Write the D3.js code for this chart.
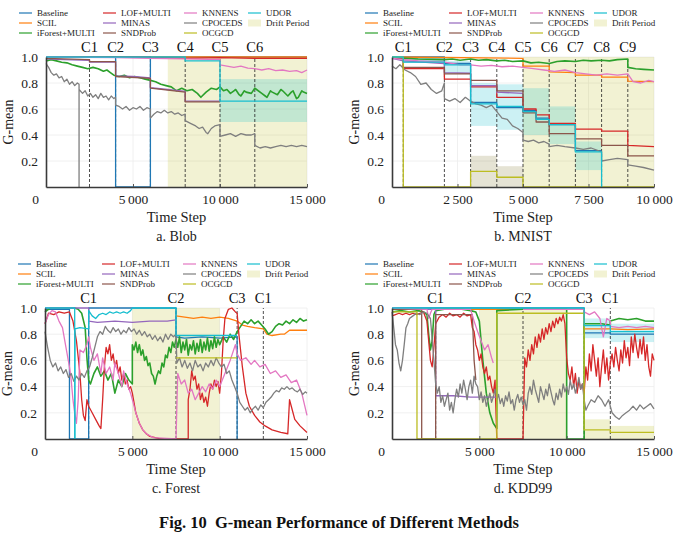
<!DOCTYPE html>
<html>
<head>
<meta charset="utf-8">
<script src="https://cdn.jsdelivr.net/npm/d3@7"></script>
<style>
body { margin: 0; background: #fff; }
svg text { font-family: "Liberation Serif", "Times New Roman", serif; }
</style>
</head>
<body>
<svg id="chart" width="680" height="535" font-family="Liberation Serif, serif"></svg>
<script>
// methods in legend order, tab10 colours
const methods = ["Baseline", "SCIL", "iForest+MULTI", "LOF+MULTI", "MINAS", "SNDProb", "KNNENS", "CPOCEDS", "OCGCD", "UDOR"];
const colors = ["#1f77b4", "#ff7f0e", "#2ca02c", "#d62728", "#9467bd", "#8c564b", "#e377c2", "#7f7f7f", "#bcbd22", "#17becf"];
const yTicks = [0.2, 0.4, 0.6, 0.8, 1.0];

// ---------- a. Blob ----------
const blobTicks = [0, 5000, 10000, 15000];
const blobChanges = [[2500, "C1"], [4000, "C2"], [6000, "C3"], [8000, "C4"], [10000, "C5"], [12000, "C6"]];
const blobDrift = [[7000, 15000]];
const blobUdorBands = [[10000, 15000, 0.5, 0.83]];
const blobBaseline = [[0,1],[4000,1],[4000,0],[6000,0],[6000,1],[15000,1]];
const blobSCIL = [[0,1],[15000,1]];
const blobIForest = [[0,0.97],[300,0.98],[600,0.97],[900,0.96],[1200,0.955],[1500,0.94],[1800,0.93],[2100,0.92],[2400,0.91],[2700,0.92],[3000,0.91],[3300,0.89],[3500,0.9],[3700,0.88],[3900,0.86],[4200,0.85],[4500,0.86],[4800,0.84],[5100,0.85],[5400,0.84],[5700,0.83],[6000,0.82],[6300,0.81],[6600,0.79],[6900,0.78],[7200,0.77],[7500,0.74],[7800,0.76],[8100,0.74],[8400,0.75],[8700,0.72],[8900,0.69],[9200,0.73],[9500,0.76],[9800,0.75],[10000,0.77],[10200,0.74],[10400,0.75],[10600,0.72],[10800,0.74],[10900,0.75],[11100,0.71],[11200,0.7],[11400,0.74],[11500,0.73],[11800,0.72],[12000,0.76],[12100,0.75],[12400,0.72],[12600,0.7],[12700,0.69],[12900,0.74],[13000,0.73],[13300,0.71],[13500,0.75],[13600,0.74],[13900,0.7],[14100,0.73],[14200,0.74],[14400,0.68],[14500,0.69],[14700,0.74],[14800,0.73],[15000,0.72]];
const blobLOF = [[0,1],[6000,1],[6000,0.995],[8000,0.99],[10000,0.995],[12000,0.99],[15000,0.99]];
const blobMINAS = [[0,0.985],[1000,0.98],[2500,0.975],[2500,0.96],[4000,0.96],[4000,0.855],[5000,0.85],[6000,0.84],[6000,0.765],[7000,0.75],[8000,0.735],[8000,0.66],[10000,0.66]];
const blobSNDProb = [[0,0.99],[2500,0.98],[2500,0.965],[4000,0.965],[4000,0.85],[6000,0.835],[6000,0.76],[8000,0.73],[8000,0.655],[10000,0.655]];
const blobKNNENS = [[0,1],[4000,0.995],[6000,0.99],[8000,0.985],[10000,0.98],[10000,0.94],[10400,0.93],[10800,0.92],[11200,0.93],[11600,0.915],[12000,0.91],[12400,0.9],[12800,0.91],[13200,0.895],[13600,0.9],[14000,0.89],[14400,0.895],[14700,0.88],[15000,0.9]];
const blobCPOCEDS = [[0,0.95],[150,0.92],[300,0.88],[450,0.86],[600,0.87],[750,0.84],[900,0.85],[1050,0.81],[1200,0.83],[1350,0.79],[1500,0.81],[1650,0.78],[1800,0.8],[1900,0.79],[1900,0],[1900,0.75],[2100,0.72],[2250,0.74],[2400,0.7],[2550,0.72],[2700,0.69],[2850,0.71],[3000,0.68],[3150,0.72],[3300,0.69],[3450,0.7],[3600,0.67],[3750,0.7],[3900,0.68],[4000,0.69],[4000,0.63],[4200,0.62],[4400,0.6],[4600,0.62],[4800,0.59],[5000,0.61],[5200,0.6],[5400,0.62],[5600,0.59],[5800,0.61],[6000,0.6],[6000,0.53],[6200,0.56],[6400,0.58],[6600,0.57],[6800,0.59],[7000,0.57],[7200,0.58],[7400,0.56],[7600,0.57],[7800,0.55],[8000,0.56],[8000,0.51],[8300,0.49],[8600,0.47],[8800,0.45],[9000,0.46],[9200,0.42],[9300,0.41],[9500,0.45],[9700,0.47],[10000,0.48],[10000,0.39],[10300,0.4],[10600,0.41],[10900,0.39],[11200,0.41],[11500,0.4],[11800,0.4],[12000,0.41],[12000,0.32],[12300,0.3],[12600,0.31],[12900,0.3],[13200,0.31],[13500,0.32],[13800,0.31],[14100,0.32],[14400,0.31],[14700,0.32],[15000,0.31]];
const blobOCGCD = [];
const blobUDOR = [[0,1],[8000,1],[8000,0.97],[10000,0.97],[10000,0.66],[15000,0.66]];

// ---------- b. MNIST ----------
const mnistTicks = [0, 2500, 5000, 7500, 10000];
const mnistChanges = [[430, "C1"], [2000, "C2"], [3000, "C3"], [4000, "C4"], [5000, "C5"], [6000, "C6"], [7000, "C7"], [8000, "C8"], [9000, "C9"]];
const mnistDrift = [[5000, 10000]];
const mnistBaselineBands = [[430, 2000, 0.955, 1.0]];
const mnistUdorBands = [[2000, 3000, 0.87, 0.97], [3000, 4000, 0.47, 0.8], [4000, 5000, 0.44, 0.79], [5000, 6000, 0.4, 0.76], [6000, 7000, 0.33, 0.62], [7000, 8000, 0.13, 0.35]];
const mnistOcgcdBands = [[3000, 4000, 0, 0.24], [4000, 5000, 0, 0.16]];
const mnistBaseline = [[0,1],[2000,1],[2000,0.95],[3000,0.95],[3000,0.65],[4000,0.65],[4000,0.61],[5000,0.61],[5000,0.59],[5500,0.59],[5500,0.53],[6000,0.53],[6000,0.48],[7000,0.48],[7000,0.28],[8000,0.28]];
const mnistSCIL = [[0,1],[5000,0.99],[5000,0.93],[6000,0.93],[6000,0.885],[7000,0.88],[7000,0.86],[8000,0.86],[8000,0.845],[9000,0.845],[9000,0.815],[10000,0.81]];
const mnistIForest = [[0,0.99],[500,0.99],[1000,0.985],[2000,0.98],[2300,0.985],[2600,0.975],[3000,0.985],[3300,0.975],[3600,0.98],[4000,0.97],[4300,0.975],[4600,0.965],[5000,0.97],[5300,0.955],[5600,0.96],[6000,0.95],[6300,0.965],[6600,0.97],[7000,0.965],[7300,0.975],[7600,0.97],[8000,0.975],[8300,0.97],[8600,0.98],[9000,0.985],[9000,0.92],[9300,0.91],[9600,0.905],[10000,0.9]];
const mnistLOF = [[0,0.99],[430,0.99],[430,0.91],[2000,0.91],[2000,0.83],[3000,0.83],[3000,0.77],[4000,0.77],[4000,0.69],[5000,0.69],[5000,0.6],[5500,0.6],[5500,0.555],[6000,0.555],[6000,0.49],[7000,0.49],[7000,0.445],[8000,0.445],[8000,0.43],[9000,0.43],[9000,0.32],[10000,0.31]];
const mnistMINAS = [[0,0.99],[430,0.97],[2000,0.95],[2000,0.88],[3000,0.875],[3000,0.78],[4000,0.78],[4000,0.73],[5000,0.72]];
const mnistSNDProb = [[0,0.99],[430,0.99],[430,0.92],[2000,0.92],[2000,0.87],[3000,0.87],[3000,0.82],[4000,0.82],[4000,0.74],[5000,0.74],[5000,0.57],[5500,0.57],[5500,0.5],[6000,0.5],[6000,0.41],[7000,0.41],[7000,0.37],[8000,0.37],[8000,0.32],[9000,0.32],[9000,0.24],[10000,0.24]];
const mnistKNNENS = [[0,0.99],[500,0.98],[1000,0.97],[1500,0.965],[2000,0.96],[2300,0.95],[2600,0.94],[3000,0.94],[3400,0.93],[3800,0.935],[4200,0.925],[4600,0.93],[5000,0.92],[5400,0.91],[5800,0.9],[6200,0.89],[6600,0.9],[7000,0.88],[7400,0.87],[7800,0.86],[8200,0.87],[8600,0.86],[9000,0.87],[9200,0.81],[9500,0.8],[9800,0.82],[10000,0.81]];
const mnistCPOCEDS = [[0,0.93],[150,0.91],[300,0.94],[500,0.9],[700,0.88],[900,0.85],[1100,0.79],[1300,0.8],[1500,0.75],[1700,0.72],[1900,0.74],[2000,0.8],[2000,0.68],[2200,0.66],[2400,0.68],[2600,0.65],[2800,0.69],[3000,0.66],[3200,0.64],[3400,0.63],[3600,0.61],[3800,0.63],[4000,0.58],[4200,0.53],[4400,0.52],[4600,0.47],[4800,0.45],[5000,0.42],[5000,0.36],[5200,0.35],[5400,0.36],[5600,0.34],[5800,0.35],[6000,0.33],[6000,0.31],[6300,0.32],[6600,0.31],[7000,0.3],[7300,0.29],[7600,0.3],[8000,0.27],[8000,0.2],[8300,0.21],[8600,0.22],[9000,0.21],[9000,0.17],[9300,0.16],[9600,0.15],[10000,0.13]];
const mnistOCGCD = [[0,1],[430,1],[430,0],[3000,0],[3000,0.12],[4000,0.12],[4000,0.075],[5000,0.075],[5000,0],[10000,0]];
const mnistUDOR = [[0,1],[430,1],[430,0.96],[2000,0.96],[2000,0.94],[3000,0.94],[3000,0.64],[4000,0.64],[4000,0.62],[5000,0.62],[5000,0.58],[5500,0.58],[5500,0.52],[6000,0.52],[6000,0.48],[7000,0.48],[7000,0.27],[8000,0.27],[8000,0]];

// ---------- c. Forest ----------
const forestTicks = [0, 5000, 10000, 15000];
const forestChanges = [[2500, "C1"], [7500, "C2"], [11000, "C3"], [12500, "C1"]];
const forestDrift = [[5000, 10000]];
const forestBaseline = [[0,0.99],[1400,0.99],[1400,0],[2500,0],[2500,1],[7500,1],[7500,0.78],[8000,0.77],[9000,0.78],[10000,0.77],[11000,0.78],[11000,0]];
const forestSCIL = [[7500,0.94],[8000,0.93],[8500,0.92],[9000,0.93],[9500,0.92],[10000,0.93],[10500,0.92],[11000,0.9],[11300,0.87],[11600,0.86],[12000,0.85],[12500,0.84],[12700,0.8],[13000,0.79],[13500,0.8],[13700,0.8],[14000,0.83],[14500,0.83],[15000,0.83]];
const forestIForest = [[0,0.97],[300,1],[800,1],[1300,1],[1700,1],[1900,0.99],[2100,0.96],[2300,0.85],[2400,0.62],[2500,0.45],[2600,0.42],[2800,0.5],[3000,0.55],[3200,0.48],[3400,0.52],[3600,0.45],[3800,0.5],[4000,0.35],[4200,0.45],[4400,0.4],[4600,0.5],[4800,0.45],[5000,0.42],[5000,0.72],[5100,0.68],[5200,0.74],[5300,0.66],[5400,0.72],[5500,0.64],[5600,0.68],[5700,0.6],[5800,0.63],[5900,0.56],[6000,0.58],[6100,0.5],[6200,0.48],[6300,0.42],[6400,0.48],[6500,0.52],[6600,0.5],[6700,0.58],[6800,0.55],[6900,0.64],[7000,0.62],[7100,0.7],[7200,0.66],[7300,0.74],[7400,0.7],[7500,0.76],[7600,0.7],[7700,0.78],[7800,0.66],[7900,0.74],[8000,0.68],[8100,0.76],[8200,0.64],[8300,0.72],[8400,0.68],[8500,0.75],[8600,0.65],[8700,0.73],[8800,0.67],[8900,0.76],[9000,0.66],[9100,0.74],[9200,0.68],[9300,0.77],[9400,0.67],[9500,0.75],[9600,0.69],[9700,0.78],[9800,0.7],[9900,0.76],[10000,0.72],[10200,0.78],[10400,0.74],[10600,0.8],[10800,0.76],[11000,0.82],[11200,0.86],[11400,0.9],[11600,0.88],[11800,0.91],[12000,0.88],[12200,0.9],[12400,0.87],[12600,0.84],[12800,0.8],[13000,0.82],[13200,0.86],[13400,0.88],[13600,0.87],[13800,0.9],[14000,0.88],[14200,0.91],[14400,0.89],[14600,0.92],[14800,0.9],[15000,0.91]];
const forestLOF = [[0,0.88],[200,0.96],[500,0.95],[800,0.97],[1100,0.96],[1400,0.97],[1600,0.9],[1800,0.75],[2000,0.5],[2100,0.3],[2200,0.18],[2300,0.14],[2400,0.3],[2500,0.25],[2700,0.2],[2900,0.15],[3100,0.1],[3200,0.08],[3300,0.3],[3400,0.55],[3500,0.7],[3600,0.65],[3700,0.72],[3800,0.6],[3900,0.65],[4000,0.55],[4100,0.6],[4200,0.5],[4300,0.55],[4400,0.45],[4500,0.5],[4600,0.42],[4700,0.45],[4800,0.38],[4900,0.4],[5000,0.35],[5200,0.2],[5400,0.12],[5600,0.07],[5800,0.04],[6000,0.02],[6500,0.005],[7000,0],[8200,0],[8200,0.3],[8300,0.38],[8400,0.52],[8500,0.45],[8600,0.48],[8700,0.38],[8800,0.42],[8900,0.3],[9000,0.35],[9100,0.28],[9200,0.32],[9300,0.25],[9400,0.35],[9500,0.42],[9600,0.38],[9700,0.45],[9800,0.4],[9900,0.44],[10000,0.35],[10100,0.5],[10200,0.75],[10300,0.92],[10500,0.99],[10700,1],[10900,0.97],[11000,0.96],[11100,0.8],[11300,0.55],[11500,0.35],[11700,0.25],[12000,0.18],[12300,0.13],[12600,0.1],[13000,0.07],[13500,0.05],[13900,0.04],[14000,0.3],[14100,0.25],[14300,0.15],[14600,0.1],[15000,0.05]];
const forestMINAS = [[0,1],[2500,1],[2500,0.9],[3000,0.89],[4000,0.9],[5000,0.89],[6000,0.9],[7000,0.9],[7500,0.91]];
const forestSNDProb = [];
const forestKNNENS = [[0,0.88],[200,0.95],[400,0.98],[600,0.97],[800,0.9],[1000,0.85],[1200,0.7],[1400,0.55],[1500,0.45],[1600,0.3],[1700,0.2],[1800,0.12],[1900,0.3],[2000,0.68],[2200,0.66],[2400,0.72],[2500,0.78],[2600,0.7],[2800,0.6],[3000,0.65],[3200,0.5],[3300,0.62],[3500,0.5],[3700,0.55],[3900,0.45],[4000,0.58],[4200,0.5],[4400,0.4],[4500,0.52],[4700,0.42],[4900,0.35],[5000,0.3],[5200,0.2],[5400,0.12],[5600,0.07],[5800,0.04],[6200,0.01],[7500,0],[7600,0.5],[7800,0.42],[8000,0.45],[8200,0.35],[8400,0.38],[8600,0.3],[8800,0.35],[9000,0.4],[9200,0.36],[9400,0.42],[9600,0.38],[9800,0.45],[10000,0.4],[10300,0.5],[10600,0.6],[10900,0.72],[11000,0.65],[11200,0.6],[11500,0.62],[11800,0.57],[12000,0.6],[12300,0.55],[12600,0.57],[12900,0.5],[13200,0.52],[13500,0.47],[13800,0.49],[14100,0.43],[14400,0.45],[14700,0.35],[15000,0.18]];
const forestCPOCEDS = [[0,0.82],[150,0.7],[300,0.6],[450,0.55],[600,0.58],[750,0.52],[900,0.55],[1050,0.5],[1200,0.53],[1350,0.47],[1500,0.5],[1650,0.44],[1800,0.48],[1950,0.45],[2100,0.5],[2250,0.47],[2400,0.52],[2550,0.55],[2700,0.62],[2850,0.7],[3000,0.78],[3150,0.82],[3300,0.8],[3450,0.86],[3600,0.83],[3750,0.81],[3900,0.85],[4050,0.82],[4200,0.84],[4350,0.8],[4500,0.83],[4650,0.81],[4800,0.85],[4950,0.82],[5100,0.84],[5250,0.8],[5400,0.83],[5550,0.79],[5700,0.82],[5850,0.78],[6000,0.8],[6150,0.76],[6300,0.79],[6450,0.75],[6600,0.78],[6750,0.74],[6900,0.8],[7050,0.76],[7200,0.8],[7350,0.78],[7500,0.8],[7550,0.58],[7700,0.62],[7850,0.55],[8000,0.6],[8150,0.54],[8300,0.58],[8450,0.52],[8600,0.6],[8750,0.55],[8900,0.57],[9050,0.52],[9200,0.58],[9350,0.55],[9500,0.6],[9650,0.56],[9800,0.62],[9950,0.58],[10100,0.55],[10250,0.57],[10400,0.5],[10550,0.52],[10700,0.45],[10850,0.4],[11000,0.35],[11150,0.28],[11300,0.25],[11450,0.22],[11600,0.24],[11750,0.2],[11900,0.23],[12050,0.25],[12200,0.22],[12350,0.26],[12500,0.24],[12650,0.28],[12800,0.3],[12950,0.32],[13100,0.35],[13250,0.37],[13400,0.36],[13550,0.39],[13700,0.38],[13850,0.4],[14000,0.38],[14150,0.39],[14300,0.37],[14450,0.36],[14600,0.38],[14750,0.34],[14900,0.36],[15000,0.35]];
const forestOCGCD = [[7500,0.62],[11000,0.62]];
const forestUDOR = [[0,1],[1700,1],[1700,0],[1720,0],[1720,0.84],[2000,0.85],[2500,0.84],[2500,0.98],[2700,0.94],[2900,0.92],[3100,0.95],[3300,0.96],[3500,0.95],[3700,0.97],[3900,0.96],[4100,0.97],[4300,0.96],[4500,0.97],[4700,0.96],[4900,0.98],[5000,1],[7500,1],[7500,0.79],[11000,0.79]];

// ---------- d. KDD99 ----------
const kddTicks = [0, 5000, 10000, 15000];
const kddChanges = [[2500, "C1"], [7500, "C2"], [11000, "C3"], [12500, "C1"]];
const kddDrift = [[5000, 10000]];
const kddUdorBands = [[11000, 12500, 0.77, 0.92], [12500, 15000, 0.74, 0.88]];
const kddOcgcdBands = [[11000, 12500, 0, 0.15], [12500, 15000, 0, 0.1]];
const kddBaseline = [[0,1],[11000,1],[11000,0.81],[12500,0.81],[12500,0.8],[15000,0.8]];
const kddSCIL = [[0,0.99],[11000,0.99],[11000,0.84],[12500,0.84],[12500,0.84],[13500,0.835],[15000,0.84]];
const kddIForest = [[0,0.97],[500,0.98],[1000,0.97],[1500,0.98],[1800,0.97],[2000,0.95],[2100,0.8],[2200,0.68],[2300,0.75],[2400,0.95],[2500,0.98],[3000,0.99],[4000,0.99],[4500,0.98],[4800,0.97],[5000,0.9],[5200,0.6],[5400,0.35],[5600,0.2],[5800,0.12],[6000,0.08],[6000,0.98],[7500,0.99],[10000,0.99],[10000,0],[11000,0],[11000,0.88],[12000,0.88],[12500,0.87],[12500,0.9],[13000,0.92],[13500,0.91],[14000,0.92],[14500,0.9],[15000,0.9]];
const kddLOF = [[0,0.94],[200,0.95],[400,0.96],[600,0.95],[800,0.96],[1000,0.95],[1200,0.96],[1400,0.95],[1600,0.96],[1800,0.97],[2000,0.9],[2100,0.75],[2200,0.6],[2300,0.55],[2400,0.7],[2500,0.88],[2700,0.93],[2900,0.95],[3100,0.93],[3300,0.96],[3500,0.94],[3700,0.95],[3900,0.93],[4100,0.96],[4300,0.94],[4500,0.95],[4600,0.85],[4700,0.82],[4800,0.72],[4900,0.68],[5000,0.6],[5100,0.65],[5200,0.55],[5300,0.5],[5400,0.55],[5500,0.45],[5600,0.48],[5700,0.4],[5800,0.35],[5900,0.45],[6000,0],[7500,0],[7600,0.62],[7700,0.55],[7800,0.68],[7900,0.6],[8000,0.72],[8100,0.65],[8200,0.78],[8300,0.7],[8400,0.8],[8500,0.74],[8600,0.84],[8700,0.76],[8800,0.85],[8900,0.8],[9000,0.88],[9100,0.82],[9200,0.9],[9300,0.85],[9400,0.92],[9500,0.88],[9600,0.93],[9700,0.9],[9800,0.95],[9900,0.88],[10000,0.62],[10100,0.5],[10200,0.45],[10300,0.55],[10400,0.4],[10500,0.5],[10600,0.35],[10700,0.45],[10800,0.38],[10900,0.42],[11000,0.35],[11100,0.55],[11200,0.45],[11300,0.65],[11400,0.52],[11500,0.72],[11600,0.6],[11700,0.48],[11800,0.62],[11900,0.4],[12000,0.55],[12100,0.68],[12200,0.5],[12300,0.62],[12400,0.45],[12500,0.58],[12600,0.65],[12700,0.55],[12800,0.7],[12900,0.6],[13000,0.52],[13100,0.68],[13200,0.58],[13300,0.75],[13400,0.62],[13500,0.7],[13600,0.56],[13700,0.78],[13800,0.66],[13900,0.8],[14000,0.7],[14100,0.62],[14200,0.76],[14300,0.65],[14400,0.78],[14500,0.6],[14600,0.72],[14700,0.55],[14800,0.48],[14900,0.65],[15000,0.6]];
const kddMINAS = [[0,0.99],[2500,0.99],[2500,0.33],[3500,0.33],[4500,0.32],[6000,0.32]];
const kddSNDProb = [[0,0.99],[1700,0.99],[1700,0],[2500,0],[2500,0.95],[4600,0.95],[4700,0.6],[4800,0.45]];
const kddKNNENS = [[0,1],[2000,0.99],[2100,0.92],[2200,0.96],[2300,0.99],[4500,0.99],[4700,0.9],[4900,0.82],[5100,0.75],[5300,0.68],[5500,0.72],[5700,0.62],[5800,0.58],[5800,null],[7500,null],[7500,0.99],[11000,0.99],[11000,0.97],[11300,0.95],[11600,0.97],[11900,0.92],[12100,0.78],[12300,0.92],[12500,0.9],[12500,0.86],[13000,0.85],[13500,0.86],[14000,0.85],[14500,0.86],[15000,0.85]];
const kddCPOCEDS = [[0,0.97],[100,0.85],[200,0.72],[300,0.68],[400,0.58],[500,0.52],[600,0.6],[700,0.72],[800,0.85],[900,0.88],[1000,0.92],[1200,0.94],[1400,0.96],[1600,0.95],[1800,0.97],[2000,0.96],[2200,0.92],[2400,0.6],[2500,0.42],[2600,0.35],[2700,0.4],[2800,0.28],[2900,0.33],[3000,0.25],[3100,0.3],[3200,0.35],[3300,0.22],[3400,0.28],[3500,0.2],[3600,0.3],[3700,0.38],[3800,0.32],[3900,0.42],[4000,0.35],[4100,0.45],[4200,0.38],[4300,0.3],[4400,0.4],[4500,0.45],[4600,0.35],[4700,0.48],[4800,0.42],[4900,0.4],[5000,0.3],[5100,0.36],[5200,0.28],[5300,0.33],[5400,0.25],[5500,0.3],[5600,0.35],[5700,0.28],[5800,0.32],[5900,0.38],[6000,0.3],[6100,0.34],[6200,0.27],[6300,0.31],[6400,0.25],[6500,0.33],[6600,0.29],[6700,0.36],[6800,0.27],[6900,0.3],[7000,0.22],[7100,0.3],[7200,0.34],[7300,0.28],[7400,0.32],[7500,0.26],[7600,0.3],[7700,0.22],[7800,0.35],[7900,0.4],[8000,0.34],[8100,0.45],[8200,0.38],[8300,0.33],[8400,0.28],[8500,0.4],[8600,0.35],[8700,0.3],[8800,0.38],[8900,0.33],[9000,0.42],[9100,0.36],[9200,0.3],[9300,0.26],[9400,0.35],[9500,0.3],[9600,0.38],[9700,0.32],[9800,0.42],[9900,0.36],[10000,0.4],[10100,0.34],[10200,0.45],[10300,0.38],[10400,0.42],[10500,0.35],[10600,0.4],[10700,0.47],[10800,0.38],[10900,0.42],[11000,0.3],[11100,0.22],[11200,0.25],[11400,0.3],[11600,0.28],[11800,0.33],[12000,0.3],[12200,0.25],[12400,0.3],[12600,0.2],[12800,0.17],[13000,0.15],[13200,0.18],[13400,0.2],[13600,0.22],[13800,0.25],[14000,0.22],[14200,0.26],[14400,0.23],[14600,0.25],[14800,0.27],[15000,0.23]];
const kddOCGCD = [[0,0.97],[1430,0.97],[1430,0],[6000,0],[6000,0.96],[11000,0.96],[11000,0.07],[12500,0.07],[12500,0.05],[15000,0.05]];
const kddUDOR = [[0,1],[11000,1],[11000,0.865],[12500,0.865],[12500,0.82],[15000,0.82]];

const FONT = "Liberation Serif, Times New Roman, serif";
const svg = d3.select("#chart");
const spaced = d3.formatLocale({ decimal: ".", thousands: "\u2009", grouping: [3], currency: ["", ""] }).format(",");

const panels = [
  { left: 46, right: 307, top: 57, bottom: 187, xMax: 15000, ticks: blobTicks, title: "a. Blob",
    changes: blobChanges, drift: blobDrift,
    bands: [{ color: colors[9], alpha: 0.22, rows: blobUdorBands }],
    series: [blobBaseline, blobSCIL, blobIForest, blobLOF, blobMINAS, blobSNDProb, blobKNNENS, blobCPOCEDS, blobOCGCD, blobUDOR] },
  { left: 392, right: 654, top: 57, bottom: 187, xMax: 10000, ticks: mnistTicks, title: "b. MNIST",
    changes: mnistChanges, drift: mnistDrift,
    bands: [{ color: colors[0], alpha: 0.35, rows: mnistBaselineBands },
            { color: colors[9], alpha: 0.22, rows: mnistUdorBands },
            { color: "#8a7f3a", alpha: 0.22, rows: mnistOcgcdBands }],
    series: [mnistBaseline, mnistSCIL, mnistIForest, mnistLOF, mnistMINAS, mnistSNDProb, mnistKNNENS, mnistCPOCEDS, mnistOCGCD, mnistUDOR] },
  { left: 45, right: 307, top: 308, bottom: 439, xMax: 15000, ticks: forestTicks, title: "c. Forest",
    changes: forestChanges, drift: forestDrift, bands: [],
    series: [forestBaseline, forestSCIL, forestIForest, forestLOF, forestMINAS, forestSNDProb, forestKNNENS, forestCPOCEDS, forestOCGCD, forestUDOR] },
  { left: 392, right: 654, top: 308, bottom: 439, xMax: 15000, ticks: kddTicks, title: "d. KDD99",
    changes: kddChanges, drift: kddDrift,
    bands: [{ color: colors[9], alpha: 0.22, rows: kddUdorBands },
            { color: colors[8], alpha: 0.22, rows: kddOcgcdBands }],
    series: [kddBaseline, kddSCIL, kddIForest, kddLOF, kddMINAS, kddSNDProb, kddKNNENS, kddCPOCEDS, kddOCGCD, kddUDOR] }
];

panels.forEach(drawPanel);

// caption
svg.append("text")
  .attr("x", 339).attr("y", 528)
  .attr("text-anchor", "middle")
  .attr("font-family", FONT)
  .attr("font-weight", "bold")
  .attr("font-size", 16.5)
  .attr("fill", "#111")
  .style("white-space", "pre")
  .text("Fig. 10  G-mean Performance of Different Methods");

function drawPanel(p) {
  const x = d3.scaleLinear().domain([0, p.xMax]).range([p.left, p.right]);
  const y = d3.scaleLinear().domain([0, 1]).range([p.bottom, p.top]);
  const g = svg.append("g").attr("font-family", FONT);

  // grid
  g.selectAll(".hg").data(yTicks).enter().append("line")
    .attr("x1", p.left).attr("x2", p.right)
    .attr("y1", d => y(d)).attr("y2", d => y(d))
    .attr("stroke", "#ececec").attr("stroke-width", 0.8);
  g.selectAll(".vg").data(p.ticks.slice(1)).enter().append("line")
    .attr("x1", d => x(d)).attr("x2", d => x(d))
    .attr("y1", p.top).attr("y2", p.bottom)
    .attr("stroke", "#ececec").attr("stroke-width", 0.8);

  // drift periods
  g.selectAll(".drift").data(p.drift).enter().append("rect")
    .attr("x", d => x(d[0])).attr("width", d => x(d[1]) - x(d[0]))
    .attr("y", y(1)).attr("height", y(0) - y(1))
    .attr("fill", colors[8]).attr("fill-opacity", 0.2);

  // std bands
  p.bands.forEach(b => {
    g.selectAll(null).data(b.rows).enter().append("rect")
      .attr("x", d => x(d[0])).attr("width", d => x(d[1]) - x(d[0]))
      .attr("y", d => y(d[3])).attr("height", d => y(d[2]) - y(d[3]))
      .attr("fill", b.color).attr("fill-opacity", b.alpha);
  });

  // change points
  g.selectAll(".cp").data(p.changes).enter().append("line")
    .attr("x1", d => x(d[0])).attr("x2", d => x(d[0]))
    .attr("y1", y(0)).attr("y2", y(1))
    .attr("stroke", "#222").attr("stroke-width", 0.8)
    .attr("stroke-dasharray", "3,2");
  g.selectAll(".cpl").data(p.changes).enter().append("text")
    .attr("x", d => x(d[0])).attr("y", p.top - 5.5)
    .attr("text-anchor", "middle").attr("font-size", 14.5).attr("fill", "#111")
    .text(d => d[1]);

  // series
  const line = d3.line()
    .defined(d => d[1] !== null)
    .x(d => x(d[0])).y(d => y(d[1]));
  p.series.forEach((s, i) => {
    if (!s.length) return;
    g.append("path").datum(s)
      .attr("d", line)
      .attr("fill", "none")
      .attr("stroke", colors[i])
      .attr("stroke-width", i === 2 ? 1.6 : 1.3)
      .attr("stroke-linejoin", "round");
  });

  // axes
  const ax = g.append("g").attr("transform", `translate(${p.left},0)`)
    .call(d3.axisLeft(y).tickValues(yTicks).tickSize(0).tickPadding(8).tickFormat(d3.format(".1f")));
  const bx = g.append("g").attr("transform", `translate(0,${p.bottom})`)
    .call(d3.axisBottom(x).tickValues(p.ticks).tickSizeInner(-3).tickSizeOuter(0).tickPadding(7).tickFormat(spaced));
  [ax, bx].forEach(a => {
    a.attr("font-family", FONT);
    a.select(".domain").attr("stroke", "#3a3a3a").attr("stroke-width", 1.6);
    a.selectAll("text").attr("font-family", FONT).attr("font-size", 13.5).attr("fill", "#222");
    a.selectAll(".tick line").attr("stroke", "#555");
  });
  bx.selectAll(".tick").filter(d => d === 0).select("text").attr("dx", -11);
  bx.selectAll(".tick").filter(d => d === 0).select("line").remove();

  // axis titles
  g.append("text")
    .attr("transform", `translate(${p.left - 33},${(p.top + p.bottom) / 2}) rotate(-90)`)
    .attr("text-anchor", "middle").attr("font-size", 14).attr("fill", "#222")
    .text("G-mean");
  g.append("text")
    .attr("x", (p.left + p.right) / 2).attr("y", p.bottom + 35)
    .attr("text-anchor", "middle").attr("font-size", 14.5).attr("fill", "#222")
    .text("Time Step");
  g.append("text")
    .attr("x", (p.left + p.right) / 2).attr("y", p.bottom + 54)
    .attr("text-anchor", "middle").attr("font-size", 14).attr("fill", "#222")
    .text(p.title);

  // legend (4 columns x 3 rows)
  const colX = [-27, 57, 138, 202];
  const legendItems = methods.map((m, i) => ({ label: m, color: colors[i], col: Math.floor(i / 3), row: i % 3 }));
  legendItems.push({ label: "Drift Period", drift: true, col: 3, row: 1 });
  const lg = g.append("g");
  legendItems.forEach(it => {
    const lx = p.left + colX[it.col];
    const ly = p.top - 44 + it.row * 10;
    if (it.drift) {
      lg.append("rect").attr("x", lx).attr("y", ly - 3.5).attr("width", 13).attr("height", 7)
        .attr("fill", colors[8]).attr("fill-opacity", 0.2);
    } else {
      lg.append("line").attr("x1", lx).attr("x2", lx + 13).attr("y1", ly).attr("y2", ly)
        .attr("stroke", it.color).attr("stroke-width", 1.2);
    }
    lg.append("text").attr("x", lx + 18).attr("y", ly + 3.2)
      .attr("font-size", 9).attr("fill", "#222")
      .text(it.label);
  });
}
</script>
</body>
</html>
